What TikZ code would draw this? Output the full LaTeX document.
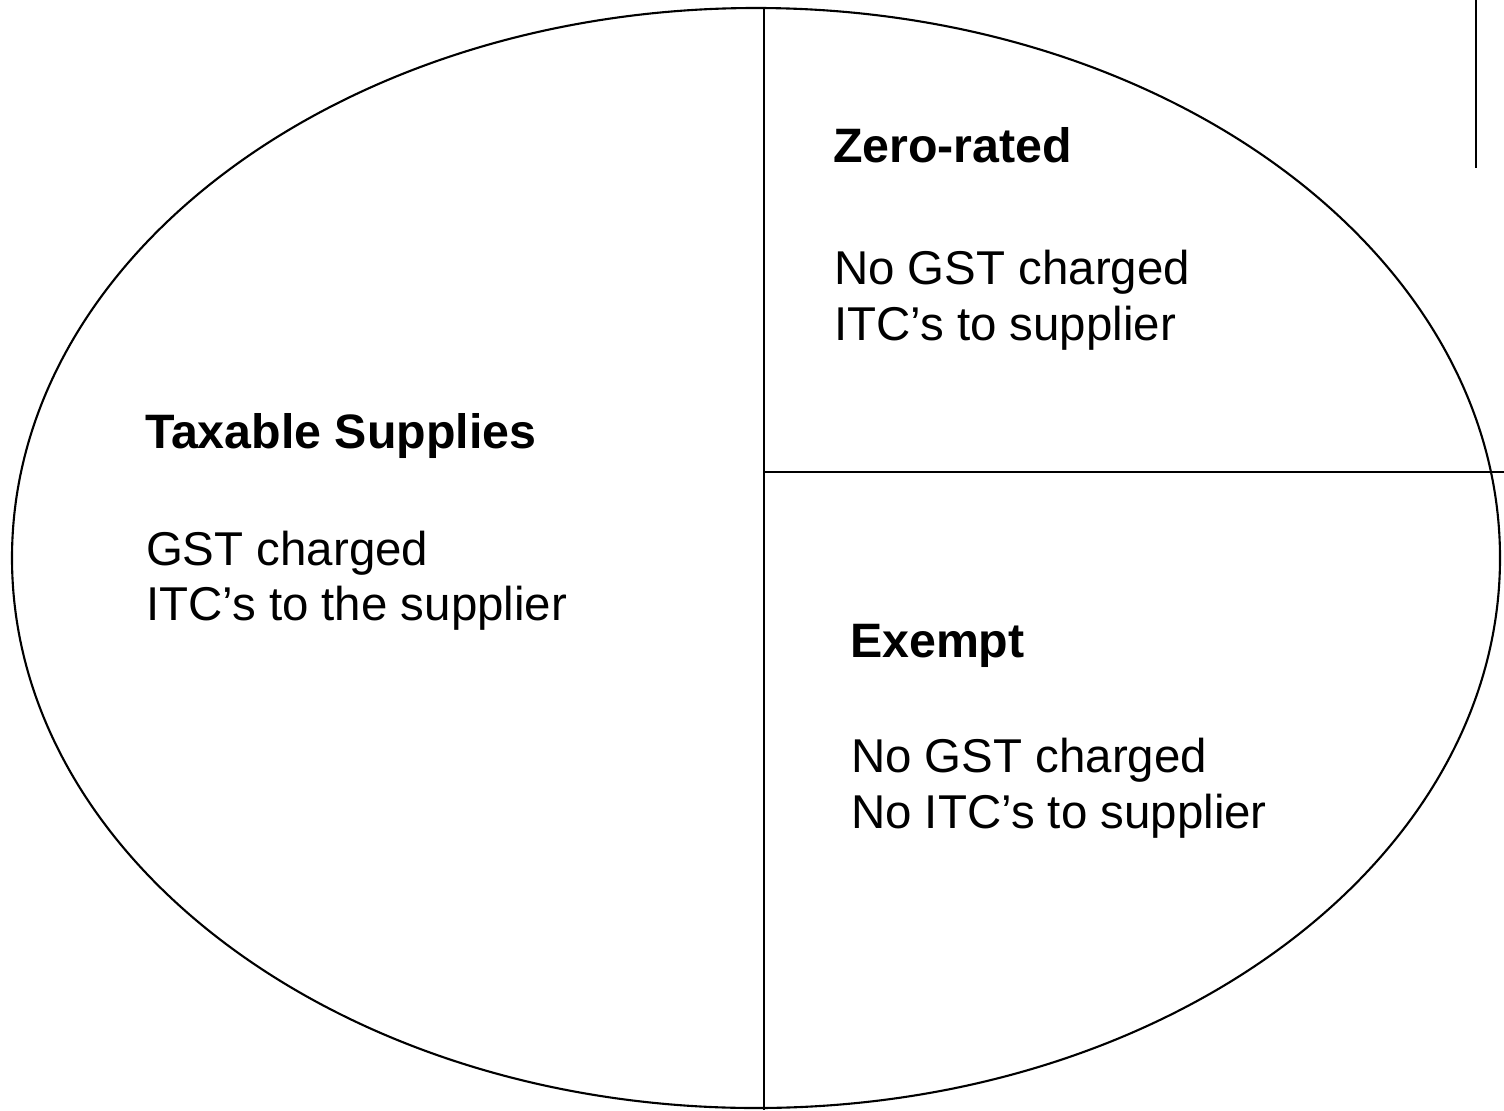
\documentclass[tikz,border=0pt]{standalone}
\usepackage{fontspec}
\setmainfont{Liberation Sans}
\begin{document}
\begin{tikzpicture}[line width=0.6pt, txt/.style={anchor=base west, inner sep=0pt, font=\fontsize{13.5pt}{16pt}\selectfont}, head/.style={txt, font=\fontsize{13.75pt}{16pt}\selectfont\bfseries}]

    \useasboundingbox (0,0) rectangle (15.04,11.10);
    
    \begin{scope}[]
    
    \draw  (7.56,5.52) ellipse (7.44 and 5.50);
    
    \coordinate (top) at (7.64,11.02);
    \coordinate (bot) at (7.64,0);
    \coordinate (mid) at (7.64,6.38);
    \coordinate (rgt) at (15.04,6.38);
    
    \draw (top) -- (bot);
    \draw (mid) -- (rgt);
    
    \end{scope}
    
    
    
    \begin{scope}[]
    
    \coordinate (tick1) at (14.76,11.10);
    \coordinate (tick2) at (14.76,9.42);
    \draw (tick1) -- (tick2);
    
    \end{scope}
    
    
    
    \node[head] (zero) at (8.32,9.48) {Zero-rated};
    \node[txt] (zero1) at (8.33,8.26) {No GST charged};
    \node[txt] (zero2) at (8.33,7.70) {ITC’s to supplier};
    
    \node[head] (tax) at (1.44,6.62) {Taxable Supplies};
    \node[txt] (tax1) at (1.45,5.45) {GST charged};
    \node[txt] (tax2) at (1.45,4.90) {ITC’s to the supplier};
    
    \node[head] (exm) at (8.49,4.53) {Exempt};
    \node[txt] (exm1) at (8.50,3.38) {No GST charged};
    \node[txt] (exm2) at (8.50,2.82) {No ITC’s to supplier};
    
\end{tikzpicture}
\end{document}
